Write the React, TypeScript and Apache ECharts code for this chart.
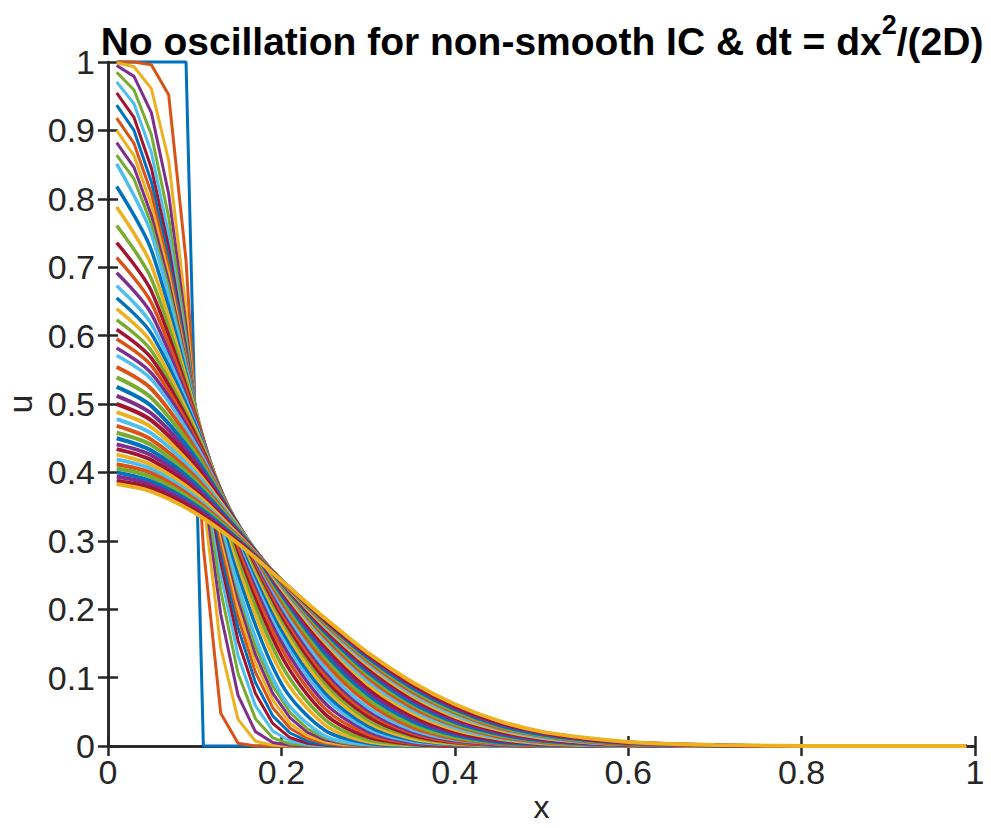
import React, { useEffect, useRef } from "react";
import * as echarts from "echarts";

// MATLAB default colour order (curve k uses COLORS[k % 7])
const COLORS = ["#0072BD", "#D95319", "#EDB120", "#7E2F8E", "#77AC30", "#4DBEEE", "#A2142F"];

// grid of the early (sharp) profiles
const xFine = [0.01, 0.03, 0.05, 0.07, 0.09, 0.11, 0.13, 0.15, 0.17, 0.19, 0.21, 0.23, 0.25, 0.27, 0.29, 0.31, 0.33, 0.35];
// grid of the later (smooth) profiles
const xCoarse = [0.01, 0.05, 0.1, 0.15, 0.2, 0.25, 0.3, 0.35, 0.4, 0.45, 0.5, 0.55, 0.6, 0.65, 0.7, 0.75, 0.8, 0.85];
const X_END = 0.99;

const xTicks = [0, 0.2, 0.4, 0.6, 0.8, 1];
const yTicks = [0, 0.1, 0.2, 0.3, 0.4, 0.5, 0.6, 0.7, 0.8, 0.9, 1];

// early steps, values on xFine
const u0 = [1, 1, 1, 1, 1, 0];
const u1 = [1, 1, 0.996, 0.952, 0.71, 0.29, 0.048, 0.004, 0];
const u2 = [0.999, 0.993, 0.961, 0.856, 0.638, 0.362, 0.144, 0.039, 0.007, 0.001, 0];
const u3 = [0.995, 0.979, 0.926, 0.807, 0.614, 0.386, 0.193, 0.074, 0.021, 0.005, 0.001, 0];
const u4 = [0.985, 0.959, 0.894, 0.773, 0.599, 0.401, 0.227, 0.106, 0.04, 0.012, 0.003, 0.001, 0];
const u5 = [0.971, 0.939, 0.868, 0.748, 0.588, 0.412, 0.252, 0.132, 0.059, 0.022, 0.007, 0.002, 0];
const u6 = [0.955, 0.919, 0.845, 0.729, 0.581, 0.419, 0.27, 0.154, 0.077, 0.033, 0.012, 0.004, 0.001, 0];
const u7 = [0.937, 0.9, 0.825, 0.714, 0.575, 0.425, 0.285, 0.173, 0.093, 0.044, 0.019, 0.007, 0.002, 0.001, 0];
const u8 = [0.918, 0.881, 0.808, 0.701, 0.57, 0.43, 0.298, 0.189, 0.108, 0.056, 0.026, 0.011, 0.004, 0.001, 0];
const u9 = [0.9, 0.863, 0.791, 0.689, 0.565, 0.434, 0.309, 0.202, 0.122, 0.067, 0.033, 0.015, 0.006, 0.002, 0.001, 0];
const u10 = [0.882, 0.846, 0.776, 0.679, 0.562, 0.437, 0.318, 0.215, 0.134, 0.077, 0.041, 0.02, 0.009, 0.004, 0.001, 0.0005, 0];
const u11 = [0.864, 0.829, 0.763, 0.669, 0.558, 0.439, 0.325, 0.226, 0.146, 0.088, 0.049, 0.025, 0.012, 0.005, 0.002, 0.001, 0];

// later steps, values on xCoarse
const u12 = [0.851, 0.749, 0.498, 0.235, 0.075, 0.015, 0.002, 0];
const u14 = [0.818, 0.725, 0.496, 0.252, 0.091, 0.023, 0.004, 0];
const u16 = [0.788, 0.703, 0.494, 0.265, 0.106, 0.031, 0.006, 0.001, 0];
const u18 = [0.761, 0.683, 0.491, 0.276, 0.119, 0.039, 0.009, 0.002, 0];
const u20 = [0.736, 0.665, 0.487, 0.286, 0.132, 0.047, 0.013, 0.003, 0];
const u22 = [0.714, 0.648, 0.484, 0.293, 0.143, 0.055, 0.017, 0.004, 0.001, 0];
const u24 = [0.692, 0.632, 0.479, 0.3, 0.153, 0.063, 0.021, 0.005, 0.001, 0];
const u26 = [0.673, 0.617, 0.475, 0.305, 0.162, 0.071, 0.025, 0.007, 0.002, 0];
const u28 = [0.655, 0.603, 0.471, 0.309, 0.17, 0.078, 0.029, 0.009, 0.002, 0.0005, 0];
const u30 = [0.639, 0.59, 0.466, 0.313, 0.178, 0.085, 0.034, 0.011, 0.003, 0.0007, 0];
const u32 = [0.623, 0.578, 0.461, 0.316, 0.185, 0.092, 0.038, 0.014, 0.004, 0.001, 0];
const u34 = [0.609, 0.567, 0.457, 0.318, 0.191, 0.098, 0.043, 0.016, 0.005, 0.0014, 0];
const u36 = [0.595, 0.556, 0.452, 0.32, 0.196, 0.104, 0.048, 0.019, 0.006, 0.002, 0.0004, 0];
const u38 = [0.582, 0.545, 0.448, 0.321, 0.201, 0.11, 0.052, 0.021, 0.0075, 0.002, 0.0006, 0];
const u40 = [0.571, 0.536, 0.443, 0.322, 0.206, 0.115, 0.056, 0.024, 0.009, 0.003, 0.0008, 0];
const u43 = [0.554, 0.522, 0.436, 0.323, 0.212, 0.123, 0.063, 0.028, 0.011, 0.004, 0.001, 0];
const u46 = [0.539, 0.509, 0.43, 0.324, 0.217, 0.13, 0.069, 0.032, 0.013, 0.005, 0.0016, 0.0005, 0];
const u49 = [0.525, 0.497, 0.423, 0.323, 0.222, 0.136, 0.075, 0.037, 0.016, 0.006, 0.002, 0.0007, 0];
const u52 = [0.512, 0.486, 0.417, 0.323, 0.225, 0.142, 0.08, 0.041, 0.019, 0.008, 0.003, 0.0009, 0];
const u55 = [0.5, 0.476, 0.411, 0.322, 0.229, 0.147, 0.085, 0.045, 0.021, 0.009, 0.0035, 0.0012, 0];
const u58 = [0.488, 0.466, 0.405, 0.321, 0.231, 0.152, 0.09, 0.049, 0.024, 0.011, 0.004, 0.0016, 0.0005, 0];
const u61 = [0.478, 0.457, 0.4, 0.32, 0.234, 0.156, 0.095, 0.053, 0.027, 0.012, 0.005, 0.002, 0.0007, 0];
const u64 = [0.468, 0.448, 0.394, 0.318, 0.236, 0.16, 0.1, 0.057, 0.03, 0.014, 0.006, 0.0024, 0.0009, 0];
const u67 = [0.458, 0.44, 0.389, 0.317, 0.237, 0.164, 0.104, 0.061, 0.032, 0.016, 0.007, 0.003, 0.0011, 0];
const u70 = [0.45, 0.432, 0.384, 0.315, 0.239, 0.167, 0.108, 0.064, 0.035, 0.018, 0.008, 0.0036, 0.0014, 0];
const u73 = [0.441, 0.425, 0.379, 0.313, 0.24, 0.17, 0.112, 0.068, 0.038, 0.02, 0.009, 0.004, 0.0017, 0];
const u76 = [0.434, 0.418, 0.374, 0.311, 0.241, 0.172, 0.115, 0.071, 0.041, 0.022, 0.011, 0.005, 0.002, 0.0008, 0];
const u79 = [0.426, 0.411, 0.37, 0.309, 0.241, 0.175, 0.118, 0.074, 0.043, 0.024, 0.012, 0.006, 0.0024, 0.001, 0];
const u82 = [0.419, 0.405, 0.365, 0.307, 0.242, 0.177, 0.121, 0.077, 0.046, 0.026, 0.013, 0.006, 0.003, 0.0012, 0];
const u85 = [0.412, 0.399, 0.361, 0.306, 0.242, 0.179, 0.124, 0.08, 0.049, 0.027, 0.015, 0.007, 0.003, 0.0015, 0];
const u88 = [0.406, 0.393, 0.357, 0.304, 0.242, 0.181, 0.127, 0.083, 0.051, 0.029, 0.016, 0.008, 0.004, 0.0017, 0.0007, 0];
const u91 = [0.4, 0.387, 0.353, 0.302, 0.242, 0.183, 0.129, 0.086, 0.054, 0.031, 0.017, 0.009, 0.004, 0.002, 0.0008, 0];
const u94 = [0.394, 0.382, 0.349, 0.3, 0.242, 0.184, 0.132, 0.089, 0.056, 0.033, 0.019, 0.01, 0.005, 0.0023, 0.001, 0];
const u97 = [0.388, 0.377, 0.345, 0.298, 0.242, 0.185, 0.134, 0.091, 0.058, 0.035, 0.02, 0.011, 0.005, 0.0026, 0.0012, 0];
const u100 = [0.383, 0.372, 0.341, 0.296, 0.242, 0.187, 0.136, 0.094, 0.061, 0.037, 0.021, 0.012, 0.006, 0.003, 0.0014, 0.0006, 0];

const fineCurves: [number, number[]][] = [
  [0, u0], [1, u1], [2, u2], [3, u3], [4, u4], [5, u5], [6, u6], [7, u7], [8, u8], [9, u9], [10, u10], [11, u11],
];
const coarseCurves: [number, number[]][] = [
  [12, u12], [14, u14], [16, u16], [18, u18], [20, u20], [22, u22], [24, u24], [26, u26], [28, u28], [30, u30],
  [32, u32], [34, u34], [36, u36], [38, u38], [40, u40], [43, u43], [46, u46], [49, u49], [52, u52], [55, u55],
  [58, u58], [61, u61], [64, u64], [67, u67], [70, u70], [73, u73], [76, u76], [79, u79], [82, u82], [85, u85],
  [88, u88], [91, u91], [94, u94], [97, u97], [100, u100],
];

const FONT = "'Liberation Sans', Arial, Helvetica, sans-serif";
const AXIS_COLOR = "#262626";

function toPoints(xs: number[], vals: number[]) {
  const pts = vals.map((v, i) => [xs[i], v]);
  pts.push([X_END, 0]);
  return pts;
}

export default function App() {
  const ref = useRef<HTMLDivElement>(null);
  useEffect(() => {
    document.body.style.margin = "0";
    const chart = echarts.init(ref.current!, undefined, { renderer: "svg" });

    const series: any[] = [];
    fineCurves.forEach(([k, vals]) => {
      series.push({
        type: "line",
        name: "t" + k,
        data: toPoints(xFine, vals),
        showSymbol: false,
        clip: false,
        lineStyle: { color: COLORS[k % 7], width: 3 },
        itemStyle: { color: COLORS[k % 7] },
        xAxisIndex: 0,
        yAxisIndex: 0,
      });
    });
    coarseCurves.forEach(([k, vals]) => {
      series.push({
        type: "line",
        name: "t" + k,
        data: toPoints(xCoarse, vals),
        showSymbol: false,
        smooth: 0.3,
        clip: false,
        lineStyle: { color: COLORS[k % 7], width: k > 40 ? 4 : 3.5 },
        itemStyle: { color: COLORS[k % 7] },
        xAxisIndex: 0,
        yAxisIndex: 0,
      });
    });

    const axisCommon = {
      axisLine: { show: true, lineStyle: { color: AXIS_COLOR, width: 2.5 } },
      axisTick: { show: true, inside: true, length: 10, lineStyle: { color: AXIS_COLOR, width: 2.5 } },
      splitLine: { show: false },
    };

    chart.setOption({
      animation: false,
      backgroundColor: "#ffffff",
      grid: { left: 108, top: 62, width: 867, height: 684, containLabel: false, outerBoundsMode: "none" },
      xAxis: [
        {
          type: "value",
          position: "bottom",
          min: xTicks[0],
          max: xTicks[xTicks.length - 1],
          interval: 0.2,
          ...axisCommon,
          axisLabel: { fontSize: 34, color: AXIS_COLOR, fontFamily: FONT, margin: 9 },
        },
        {
          type: "value",
          position: "top",
          min: 0,
          max: 1,
          interval: 0.2,
          ...axisCommon,
          axisLabel: { show: false },
        },
      ],
      yAxis: [
        {
          type: "value",
          position: "left",
          min: yTicks[0],
          max: yTicks[yTicks.length - 1],
          interval: 0.1,
          ...axisCommon,
          axisLabel: { fontSize: 34, color: AXIS_COLOR, fontFamily: FONT, margin: 13 },
          name: "u",
          nameLocation: "middle",
          nameRotate: 90,
          nameGap: 62,
          nameTextStyle: { fontSize: 34, color: AXIS_COLOR, fontFamily: FONT },
        },
        {
          type: "value",
          position: "right",
          min: 0,
          max: 1,
          interval: 0.1,
          ...axisCommon,
          axisLabel: { show: false },
        },
      ],
      graphic: [
        {
          type: "text",
          x: 542,
          y: 36,
          style: {
            text: "{a|No oscillation for non-smooth IC & dt = dx}{s|2}{a|/(2D)}",
            align: "center",
            verticalAlign: "middle",
            fill: "#000",
            rich: {
              a: { fontSize: 39, fontWeight: "bold", fontFamily: FONT, lineHeight: 50, verticalAlign: "bottom", fill: "#000" },
              s: { fontSize: 27, fontWeight: "bold", fontFamily: FONT, lineHeight: 2, verticalAlign: "top", fill: "#000" },
            },
          },
        },
        {
          type: "text",
          x: 541.5,
          y: 807,
          style: {
            text: "x",
            align: "center",
            verticalAlign: "middle",
            fontSize: 32,
            fontFamily: FONT,
            fill: AXIS_COLOR,
          },
        },
      ],
      series,
    });
    return () => chart.dispose();
  }, []);
  return <div ref={ref} style={{ width: 991, height: 828 }} />;
}
